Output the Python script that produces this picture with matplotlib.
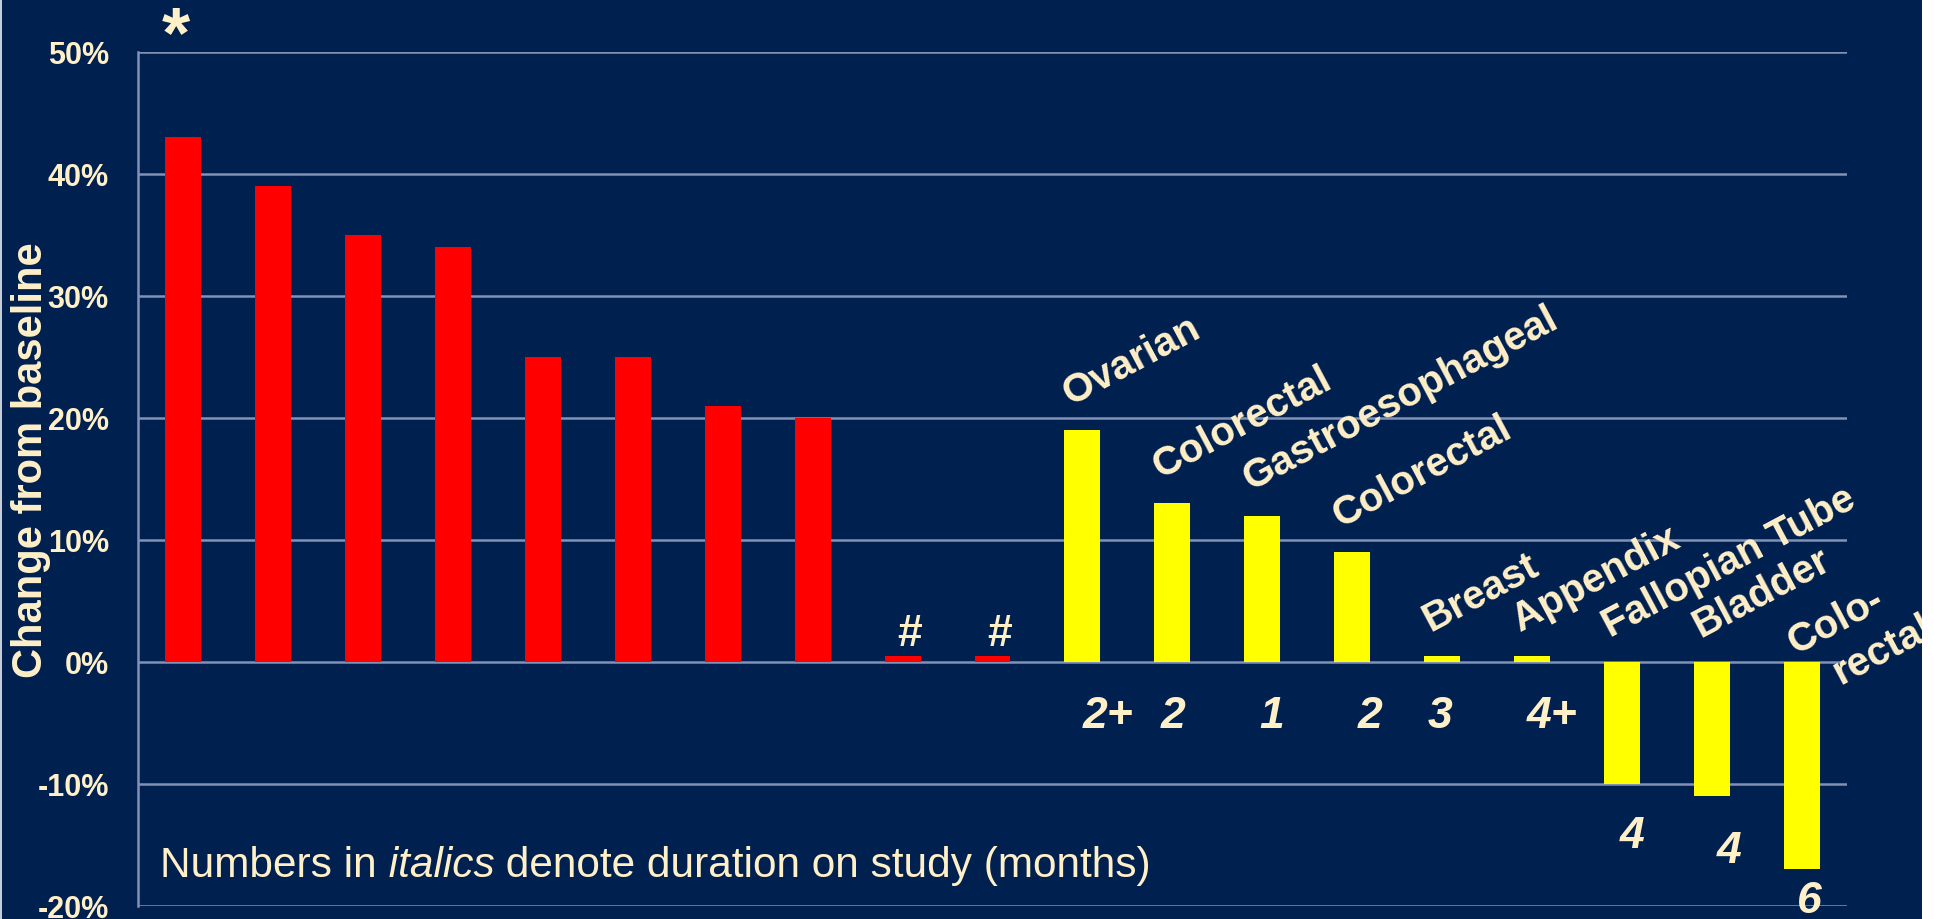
import matplotlib
matplotlib.use("Agg")
import matplotlib.pyplot as plt
from matplotlib.patches import Rectangle

# percent change from baseline, progressing patients (red) then the rest (yellow)
red_values = [43, 39, 35, 34, 25, 25, 21, 20, 0.5, 0.5]
red_marks = ['*', '', '', '', '', '', '', '', '#', '#']
yellow_values = [19, 13, 12, 9, 0.5, 0.5, -10, -11, -17]
yellow_tumours = ['Ovarian', 'Colorectal', 'Gastroesophageal', 'Colorectal',
                  'Breast', 'Appendix', 'Fallopian Tube', 'Bladder', 'Colo-']
durations = ['2+', '2', '1', '2', '3', '4+', '4', '4', '6']
yticks = [-20, -10, 0, 10, 20, 30, 40, 50]

navy = '#002050'
cream = '#FFF0C8'
grid = '#8391B4'
fonts = ['Liberation Sans', 'DejaVu Sans']
plt.rcParams['font.family'] = fonts

fig = plt.figure(figsize=(19.34, 9.19), dpi=100, facecolor=navy)
ax = fig.add_axes([138/1934, 1 - 906/919, (1847 - 138)/1934, (906 - 52)/919])
ax.set_facecolor(navy)

n_red = len(red_values)
xr = list(range(n_red))
xy = list(range(n_red, n_red + len(yellow_values)))
ax.bar(xr, red_values, width=0.4, color='#FF0000', zorder=3)
ax.bar(xy, yellow_values, width=0.4, color='#FFFF00', zorder=3)

ax.set_xlim(-0.5, n_red + len(yellow_values) - 0.5)
ax.set_ylim(-20, 50)
ax.set_yticks(yticks)
ax.set_yticklabels([f'{t}%' for t in yticks], fontsize=22, fontweight='bold', color=cream)
ax.set_xticks([])
ax.tick_params(axis='y', length=0, pad=21)
ax.grid(axis='y', color=grid, lw=1.8, zorder=1)
for s in ['top', 'right', 'bottom']:
    ax.spines[s].set_visible(False)
ax.spines['left'].set_color(grid)
ax.spines['left'].set_linewidth(1.8)

# markers above the red bars
for x, v, m in zip(xr, red_values, red_marks):
    if m == '*':
        ax.text(x - 0.08, 49.6, m, fontsize=52, fontweight='bold', color=cream,
                ha='center', va='baseline', clip_on=False)
    elif m:
        ax.text(x + 0.08, v + 0.8, m, fontsize=32, fontweight='bold', color=cream,
                ha='center', va='baseline')

# tumour type over each yellow bar
for x, v, name in zip(xy[:-1], yellow_values[:-1], yellow_tumours[:-1]):
    ax.text(x - 0.13, max(v, 0) + 2.0, name, rotation=28, rotation_mode='anchor',
            fontsize=29, fontweight='bold', color=cream, ha='left', va='baseline')
ax.text(xy[-1] - 0.07, 0.6, yellow_tumours[-1], rotation=28, rotation_mode='anchor',
        fontsize=29, fontweight='bold', color=cream, ha='left', va='baseline', clip_on=False)
ax.text(xy[-1] + 0.43, -1.9, 'rectal', rotation=28, rotation_mode='anchor',
        fontsize=29, fontweight='bold', color=cream, ha='left', va='baseline', clip_on=False)

# months on study
dur_x = [0.28, 0.01, 0.1, 0.2, -0.03, 0.22, 0.11, 0.19, 0.08]
dur_y = [-5.4, -5.4, -5.4, -5.4, -5.4, -5.4, -15.25, -16.5, -20.6]
for x, dx, yv, d in zip(xy, dur_x, dur_y, durations):
    ax.text(x + dx, yv, d, fontsize=32, fontweight='bold', fontstyle='italic',
            color=cream, ha='center', va='baseline', clip_on=False)

fig.text(31/1934, 1 - 460/919, 'Change from baseline', rotation=90, fontsize=30,
         fontweight='bold', color=cream, ha='center', va='center')

t1 = fig.text(160/1934, 1 - 877/919, 'Numbers in', fontsize=30.5, color=cream,
              ha='left', va='baseline')
t2 = ax.annotate(' italics', xy=(1, 0), xycoords=t1, fontsize=30.5, fontstyle='italic',
                 color=cream, ha='left', va='bottom')
ax.annotate(' denote duration on study (months)', xy=(1, 0), xycoords=t2, fontsize=30.5,
            color=cream, ha='left', va='bottom')

fig.add_artist(Rectangle((1922/1934, 0), 12/1934, 1, transform=fig.transFigure,
                         facecolor='white', edgecolor='none', zorder=10))
fig.add_artist(Rectangle((0, 0), 2/1934, 1, transform=fig.transFigure,
                         facecolor='#C8CCD8', edgecolor='none', zorder=10))

fig.savefig('out.png', dpi=100, facecolor=navy)
